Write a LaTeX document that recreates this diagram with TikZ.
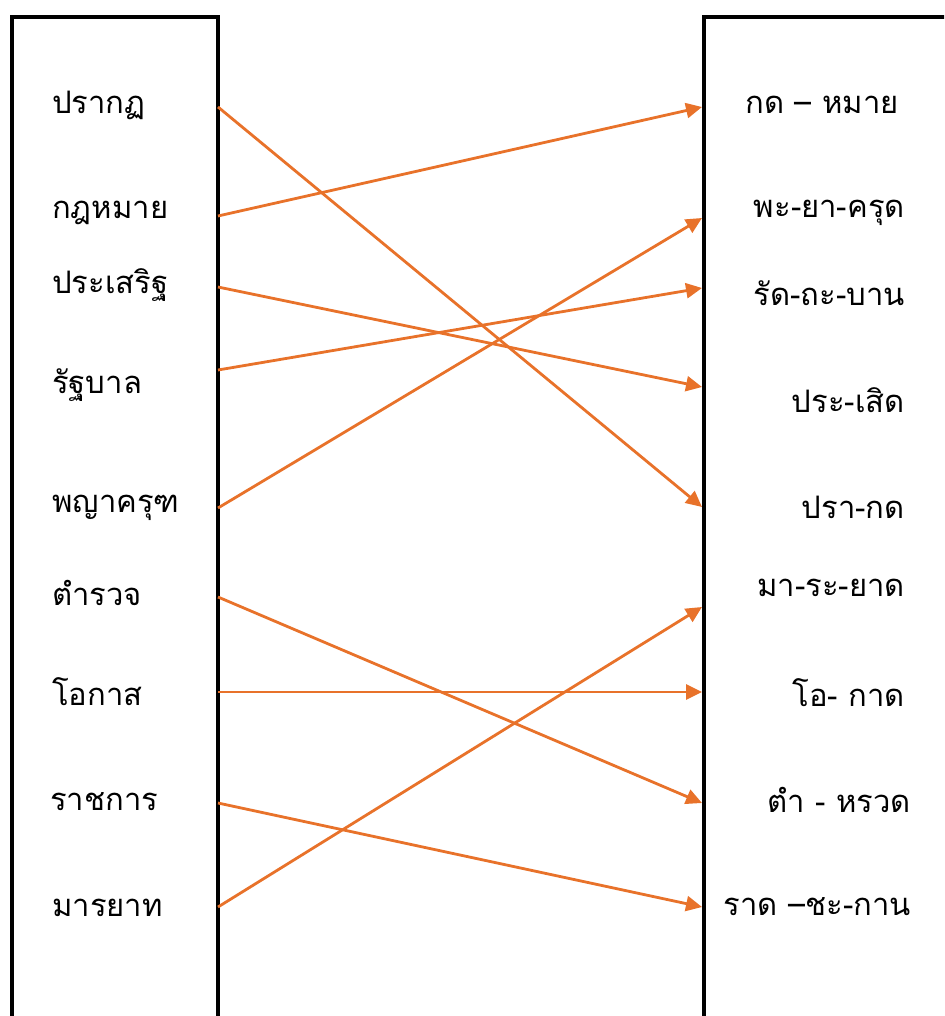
\documentclass[tikz,border=0pt]{standalone}
\usepackage{fontspec}
\newfontfamily\thaifont[Script=Thai]{Loma}
\usetikzlibrary{arrows.meta}
\definecolor{MatchOrange}{HTML}{E8722A}
\tikzset{
  word/.style={font=\thaifont\fontsize{31}{36}\selectfont,inner sep=0pt},
  match/.style={->,line width=2.8pt,color=MatchOrange},
  frame/.style={line width=4.8pt,draw=black}
}

\begin{document}
\begin{tikzpicture}[x=1pt,y=-1pt,>={Triangle[length=16pt,width=15pt]}]
  \useasboundingbox (0,0) rectangle (944,1016);
  \clip (0,0) rectangle (944,1016);
  % two columns
  \draw[frame] (12,1030) -- (12,17) -- (218,17) -- (218,1030);
  \draw[frame] (704,1030) -- (704,17) -- (960,17);
  % left words
  \node[word,anchor=west] (w1) at (52,105) {ปรากฏ};
  \node[word,anchor=west] (w2) at (52,213) {กฎหมาย};
  \node[word,anchor=west] (w3) at (52,285) {ประเสริฐ};
  \node[word,anchor=west] (w4) at (52,385) {รัฐบาล};
  \node[word,anchor=west] (w5) at (52,508) {พญาครุฑ};
  \node[word,anchor=west] (w6) at (52,593) {ตำรวจ};
  \node[word,anchor=west] (w7) at (52,692) {โอกาส};
  \node[word,anchor=west] (w8) at (50,802) {ราชการ};
  \node[word,anchor=west] (w9) at (52,908) {มารยาท};
  % right readings
  \node[word,anchor=east] (r1) at (899,105) {กด – หมาย};
  \node[word,anchor=east] (r2) at (905,213) {พะ-ยา-ครุด};
  \node[word,anchor=east] (r3) at (905,293) {รัด-ถะ-บาน};
  \node[word,anchor=east] (r4) at (905,400) {ประ-เสิด};
  \node[word,anchor=east] (r5) at (905,507) {ปรา-กด};
  \node[word,anchor=east] (r6) at (905,588) {มา-ระ-ยาด};
  \node[word,anchor=east] (r7) at (905,693) {โอ- กาด};
  \node[word,anchor=east] (r8) at (911,800) {ตำ - หรวด};
  \node[word,anchor=east] (r9) at (911,907) {ราด –ชะ-กาน};
  % ends on the frames
  \coordinate (a1) at (218,107);
  \coordinate (a2) at (218,216);
  \coordinate (a3) at (218,287);
  \coordinate (a4) at (218,370);
  \coordinate (a5) at (218,508);
  \coordinate (a6) at (218,597);
  \coordinate (a7) at (218,692);
  \coordinate (a8) at (218,803);
  \coordinate (a9) at (218,907);
  \coordinate (b1) at (702,107);
  \coordinate (b2) at (702,218);
  \coordinate (b3) at (702,288);
  \coordinate (b4) at (702,387);
  \coordinate (b5) at (702,507);
  \coordinate (b6) at (702,607);
  \coordinate (b7) at (702,692);
  \coordinate (b8) at (702,803);
  \coordinate (b9) at (702,907);
  % matches
  \draw[match] (a1) -- (b5);
  \draw[match] (a2) -- (b1);
  \draw[match] (a3) -- (b4);
  \draw[match] (a4) -- (b3);
  \draw[match] (a5) -- (b2);
  \draw[match] (a6) -- (b8);
  \draw[match] (a7) -- (b7);
  \draw[match] (a8) -- (b9);
  \draw[match] (a9) -- (b6);
\end{tikzpicture}
\end{document}
